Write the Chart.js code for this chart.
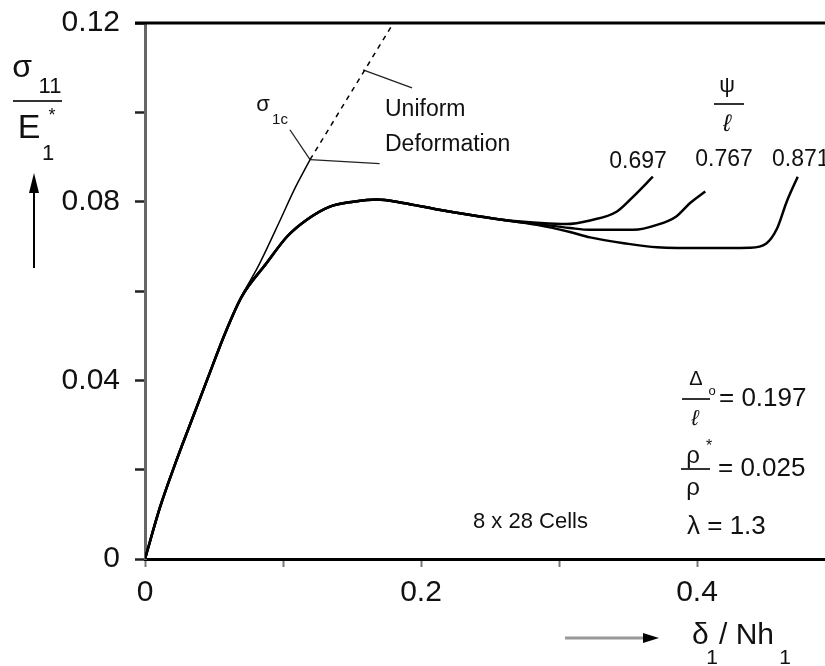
<!DOCTYPE html>
<html>
<head>
<meta charset="utf-8">
<script src="https://cdn.jsdelivr.net/npm/chart.js@4.4.0/dist/chart.umd.min.js"></script>
<style>
  body { margin: 0; background: #fff; }
  #wrap { width: 825px; height: 666px; }
</style>
</head>
<body>
<div id="wrap"><canvas id="chart"></canvas></div>
<script>
// shared loading path, same for every psi/l run
const trunkX = [0, 0.011, 0.022, 0.033, 0.045, 0.058, 0.070, 0.088, 0.103, 0.117, 0.134, 0.151, 0.168, 0.187, 0.211, 0.236, 0.260];
const trunkY = [0, 0.0117, 0.0214, 0.0304, 0.0401, 0.0505, 0.0587, 0.0662, 0.0722, 0.0759, 0.0789, 0.0800, 0.0805, 0.0797, 0.0783, 0.0770, 0.0759];

// branches after localisation starts
const psiLabels = ["0.697", "0.767", "0.871"];
const b697X = [0.284, 0.305, 0.3225, 0.342, 0.354, 0.368];
const b697Y = [0.0753, 0.0750, 0.0758, 0.0778, 0.0812, 0.0856];
const b767X = [0.284, 0.308, 0.3225, 0.354, 0.371, 0.385, 0.395, 0.406];
const b767Y = [0.0750, 0.0741, 0.0737, 0.0737, 0.0748, 0.0767, 0.0797, 0.0823];
const b871X = [0.284, 0.308, 0.3225, 0.347, 0.371, 0.407, 0.438, 0.450, 0.458, 0.465, 0.473];
const b871Y = [0.0748, 0.0732, 0.0720, 0.0707, 0.0698, 0.0696, 0.0697, 0.0706, 0.0740, 0.0800, 0.0856];

// uniform deformation (solid up to sigma_1c, dashed after)
const uniX = [0, 0.011, 0.022, 0.033, 0.045, 0.058, 0.070, 0.082, 0.098, 0.108, 0.1196];
const uniY = [0, 0.0117, 0.0214, 0.0304, 0.0401, 0.0505, 0.0588, 0.0655, 0.0759, 0.0826, 0.0894];
const uniDashX = [0.1196, 0.18];
const uniDashY = [0.0894, 0.12];

// leader lines of the labels
const leadSigmaX = [0.105, 0.1196];
const leadSigmaY = [0.0961, 0.0894];
const leadFlatX = [0.1196, 0.170];
const leadFlatY = [0.0894, 0.0885];
const leadUniX = [0.158, 0.1935];
const leadUniY = [0.1095, 0.1055];

// axes
const xTicks = [0, 0.1, 0.2, 0.3, 0.4];
const xTickText = ["0", "", "0.2", "", "0.4"];
const yTicks = [0, 0.02, 0.04, 0.06, 0.08, 0.10, 0.12];
const yTickText = ["0", "", "0.04", "", "0.08", "", "0.12"];

const FONT = '"Liberation Sans", Arial, sans-serif';

const pts = (xs, ys) => xs.map((v, i) => ({ x: v, y: ys[i] }));

function curve(xs, ys, width, dash) {
  return {
    data: pts(xs, ys),
    borderColor: "#000",
    borderWidth: width,
    borderDash: dash || [],
    pointRadius: 0,
    cubicInterpolationMode: "monotone",
    fill: false,
  };
}

function leader(xs, ys) {
  return { data: pts(xs, ys), borderColor: "#222", borderWidth: 1.3, pointRadius: 0, tension: 0, fill: false };
}

// text + arrows that sit outside the data
const annot = {
  id: "annot",
  afterDraw(chart) {
    const { ctx, chartArea } = chart;
    ctx.save();
    // frame line along the top
    ctx.strokeStyle = "#000";
    ctx.lineWidth = 3;
    ctx.beginPath();
    ctx.moveTo(chartArea.left - 10, chartArea.top);
    ctx.lineTo(chartArea.right, chartArea.top);
    ctx.stroke();

    ctx.fillStyle = "#111";
    ctx.textBaseline = "middle";
    const txt = (s, x, y, size, align, style) => {
      ctx.font = (style || "") + " " + size + "px " + FONT;
      ctx.textAlign = align || "left";
      ctx.fillText(s, x, y);
    };
    const hline = (x1, x2, y, w) => {
      ctx.lineWidth = w || 2;
      ctx.beginPath(); ctx.moveTo(x1, y); ctx.lineTo(x2, y); ctx.stroke();
    };

    // y title: sigma_11 / E_1*
    ctx.strokeStyle = "#333";
    txt("σ", 22, 68, 32, "center");
    txt("11", 50, 87, 22, "center");
    hline(13, 62, 101, 2);
    txt("E", 29, 129, 34, "center");
    txt("*", 52, 116, 18, "center");
    txt("1", 48, 154, 22, "center");
    // up arrow
    ctx.strokeStyle = "#000";
    ctx.lineWidth = 2;
    ctx.beginPath(); ctx.moveTo(34, 268); ctx.lineTo(34, 185); ctx.stroke();
    ctx.fillStyle = "#000";
    ctx.beginPath(); ctx.moveTo(34, 173); ctx.lineTo(29, 193); ctx.lineTo(39, 193); ctx.closePath(); ctx.fill();

    // x title: arrow and delta_1 / Nh_1
    ctx.strokeStyle = "#999";
    ctx.lineWidth = 3;
    ctx.beginPath(); ctx.moveTo(565, 638); ctx.lineTo(645, 638); ctx.stroke();
    ctx.beginPath(); ctx.moveTo(659, 638); ctx.lineTo(643, 633); ctx.lineTo(643, 643); ctx.closePath(); ctx.fill();
    ctx.fillStyle = "#111";
    txt("δ", 692, 636, 30);
    txt("1", 712, 658, 21, "center");
    txt("/ Nh", 719, 636, 30);
    txt("1", 785, 658, 21, "center");

    // sigma_1c
    txt("σ", 263, 105, 22, "center");
    txt("1c", 280, 120, 15, "center");

    // Uniform Deformation
    txt("Uniform", 385, 110, 23);
    txt("Deformation", 385, 145, 23);

    // psi / l and run labels
    txt("ψ", 727, 86, 22, "center");
    ctx.strokeStyle = "#333";
    hline(714, 744, 104, 2);
    txt("ℓ", 727, 124, 24, "center", "italic");
    txt(psiLabels[0], 638, 162, 23, "center");
    txt(psiLabels[1], 724, 160, 23, "center");
    txt(psiLabels[2], 772, 160, 23, "left");

    // parameters
    txt("Δ", 696, 379, 20, "center");
    txt("o", 712, 391, 13, "center");
    hline(682, 710, 399, 2);
    txt("ℓ", 695, 419, 22, "center", "italic");
    txt("= 0.197", 719, 399, 26);
    txt("ρ", 693, 456, 24, "center");
    txt("*", 709, 447, 16, "center");
    hline(681, 710, 469, 2);
    txt("ρ", 693, 488, 24, "center");
    txt("= 0.025", 718, 469, 26);
    txt("λ = 1.3", 687, 527, 26);

    txt("8 x 28 Cells", 473, 522, 22);
    ctx.restore();
  },
};

new Chart(document.getElementById("chart"), {
  type: "line",
  data: {
    datasets: [
      curve(trunkX.concat(b697X), trunkY.concat(b697Y), 2.5),
      curve(trunkX.concat(b767X), trunkY.concat(b767Y), 2.5),
      curve(trunkX.concat(b871X), trunkY.concat(b871Y), 2.5),
      curve(uniX, uniY, 1.5),
      curve(uniDashX, uniDashY, 1.5, [5, 5]),
      leader(leadSigmaX, leadSigmaY),
      leader(leadFlatX, leadFlatY),
      leader(leadUniX, leadUniY),
    ],
  },
  options: {
    responsive: true,
    maintainAspectRatio: false,
    animation: false,
    layout: { padding: { top: 23, right: 0, left: 0, bottom: 0 } },
    plugins: { legend: { display: false }, tooltip: { enabled: false } },
    scales: {
      x: {
        type: "linear",
        min: 0,
        max: 680 / 1380,
        afterBuildTicks: (s) => { s.ticks = xTicks.map((v) => ({ value: v })); },
        afterFit: (s) => { s.height = 107; s.paddingLeft = 0; s.paddingRight = 0; },
        border: { color: "#000", width: 3 },
        grid: { drawOnChartArea: false, tickLength: 8, tickColor: "#777", tickWidth: 2 },
        ticks: {
          padding: 8,
          color: "#111",
          font: { family: FONT, size: 30 },
          callback: (v, i) => xTickText[i],
        },
      },
      y: {
        min: 0,
        max: 0.12,
        afterBuildTicks: (s) => { s.ticks = yTicks.map((v) => ({ value: v })); },
        afterFit: (s) => { s.width = 145; s.paddingTop = 0; s.paddingBottom = 0; },
        border: { color: "#666", width: 3 },
        grid: { drawOnChartArea: false, tickLength: 10, tickColor: "#222", tickWidth: 2.5 },
        ticks: {
          padding: 15,
          color: "#111",
          font: { family: FONT, size: 30 },
          callback: (v, i) => yTickText[i],
        },
      },
    },
  },
  plugins: [annot],
});
</script>
</body>
</html>
